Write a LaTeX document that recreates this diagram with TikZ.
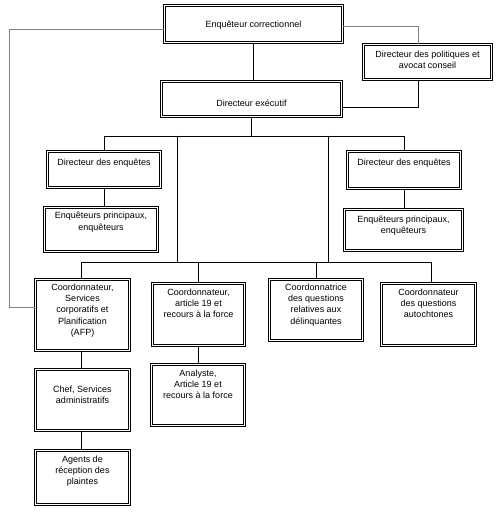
\documentclass[tikz,border=0pt]{standalone}
\usepackage{fontspec}
\setmainfont{Liberation Sans}
\tikzset{
  orgbox/.style={draw=black, line width=0.7pt, double=white, double distance=1.4pt, rectangle, inner sep=0pt, outer sep=0pt, fill=white},
  lbl/.style={align=center, inner sep=0pt, font=\fontsize{9}{11.3}\selectfont},
  link/.style={draw=black, line width=0.8pt},
  glink/.style={draw=gray, line width=0.8pt}
}
\newcommand\mybox[7]{%
  \pgfmathsetmacro\bw{#4-#2-2.8}\pgfmathsetmacro\bh{#5-#3-2.8}%
  \node[orgbox, minimum width=\bw pt, minimum height=\bh pt, anchor=north west] (#1) at (#2+1.4,#3+1.4) {};
  \node[lbl, anchor=north] (#1-t) at ({(#2+#4)/2},#6) {#7};}
\begin{document}
\begin{tikzpicture}[x=1pt,y=-1pt]
\useasboundingbox (0,0) rectangle (503,513);
\mybox{ec}{163}{4}{344}{44}{20.5}{Enquêteur correctionnel}
\mybox{dp}{362}{43}{493}{81}{50.5}{Directeur des politiques et\\avocat conseil}
\mybox{de}{160}{80}{343}{118}{99.5}{Directeur exécutif}
\mybox{dda}{46}{150}{162}{189}{158.5}{Directeur des enquêtes}
\mybox{ddb}{346}{150}{462}{190}{158.5}{Directeur des enquêtes}
\mybox{epa}{43}{206}{159}{253}{212}{Enquêteurs principaux,\\enquêteurs}
\mybox{epb}{343}{208}{464}{252}{215.5}{Enquêteurs principaux,\\enquêteurs}
\mybox{afp}{34}{278}{131}{352}{283.5}{Coordonnateur,\\Services\\corporatifs et\\Planification\\(AFP)}
\mybox{ca}{151}{282}{246}{347}{288.5}{Coordonnateur,\\article 19 et\\recours à la force}
\mybox{cq}{268}{278}{364}{342}{283.5}{Coordonnatrice\\des questions\\relatives aux\\délinquantes}
\mybox{cau}{380}{282}{477}{347}{288.5}{Coordonnateur\\des questions\\autochtones}
\mybox{chef}{34}{368}{131}{432}{385.5}{Chef, Services\\administratifs}
\mybox{an}{150}{363}{246}{427}{369.5}{Analyste,\\Article 19 et\\recours à la force}
\mybox{ag}{34}{449}{131}{506}{455.5}{Agents de\\réception des\\plaintes}
\coordinate (b1) at (0,136);
\coordinate (b2) at (0,262);
\coordinate (va) at (177,136);
\coordinate (vb) at (328,136);
\coordinate (lc) at (9,307);
% gray links
\draw[glink] ([yshift=-5pt]ec.west) -| (lc) -- (afp.west |- lc);
\draw[glink] ([yshift=-2pt]ec.east) -| ([xshift=-9.5pt]dp.north);
% black links
\draw[link] (ec.south) -- (ec.south |- de.north);
\draw[link] ([xshift=-9.5pt]dp.south) |- ([yshift=-8pt]de.east);
\draw[link] (de.south) -- (de.south |- b1);
\draw[link] (dda.north) -- (dda.north |- b1) -| (ddb.north);
\draw[link] (dda.south) -- (dda.south |- epa.north);
\draw[link] (ddb.south) -- (ddb.south |- epb.north);
\draw[link] (va) -- (va |- b2);
\draw[link] (vb) -- (vb |- b2);
\draw[link] ([xshift=-1pt]afp.north) -- ([xshift=-1pt]afp.north |- b2) -| ([xshift=3pt]cau.north);
\draw[link] (ca.north) -- (ca.north |- b2);
\draw[link] (cq.north) -- (cq.north |- b2);
\draw[link] ([xshift=-1pt]afp.south) -- ([xshift=-1pt]afp.south |- chef.north);
\draw[link] (ca.south) -- (ca.south |- an.north);
\draw[link] ([xshift=-1pt]chef.south) -- ([xshift=-1pt]chef.south |- ag.north);
\end{tikzpicture}
\end{document}
